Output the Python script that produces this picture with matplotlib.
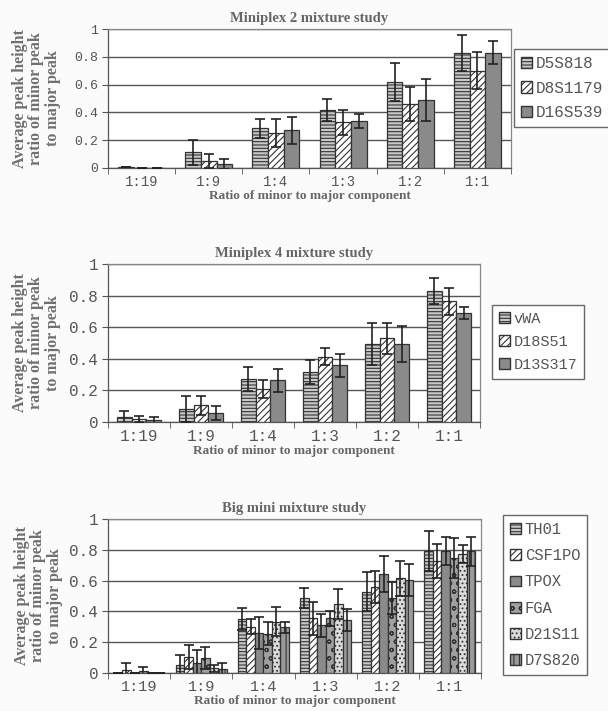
import matplotlib
matplotlib.use("Agg")
import matplotlib.pyplot as plt
import matplotlib.patches as mpatches
import numpy as np

plt.rcParams['hatch.linewidth'] = 0.8

ratios = ['1:19', '1:9', '1:4', '1:3', '1:2', '1:1']

# Miniplex 2
m2_loci = ['D5S818', 'D8S1179', 'D16S539']
m2_vals = [
    [0.005, 0.115, 0.285, 0.42, 0.62, 0.83],
    [0.0, 0.053, 0.25, 0.33, 0.46, 0.70],
    [0.0, 0.03, 0.27, 0.34, 0.49, 0.83],
]
m2_err = [
    [0.0, 0.09, 0.07, 0.08, 0.135, 0.13],
    [0.0, 0.05, 0.10, 0.09, 0.125, 0.135],
    [0.0, 0.035, 0.095, 0.05, 0.15, 0.085],
]

# Miniplex 4
m4_loci = ['vWA', 'D18S51', 'D13S317']
m4_vals = [
    [0.03, 0.083, 0.273, 0.316, 0.494, 0.83],
    [0.02, 0.106, 0.21, 0.413, 0.53, 0.763],
    [0.01, 0.057, 0.263, 0.358, 0.494, 0.69],
]
m4_err = [
    [0.04, 0.082, 0.074, 0.074, 0.133, 0.08],
    [0.02, 0.06, 0.057, 0.055, 0.097, 0.084],
    [0.02, 0.047, 0.072, 0.074, 0.112, 0.035],
]

# Big mini
bm_loci = ['TH01', 'CSF1PO', 'TPOX', 'FGA', 'D21S11', 'D7S820']
bm_vals = [
    [0.0, 0.05, 0.348, 0.485, 0.528, 0.793],
    [0.02, 0.104, 0.30, 0.354, 0.56, 0.728],
    [0.0, 0.065, 0.26, 0.31, 0.643, 0.793],
    [0.015, 0.098, 0.256, 0.354, 0.485, 0.746],
    [0.0, 0.03, 0.333, 0.446, 0.615, 0.772],
    [0.0, 0.024, 0.296, 0.343, 0.604, 0.789],
]
bm_err = [
    [0.0, 0.065, 0.072, 0.065, 0.126, 0.131],
    [0.045, 0.076, 0.048, 0.109, 0.103, 0.111],
    [0.0, 0.087, 0.105, 0.073, 0.114, 0.09],
    [0.025, 0.072, 0.077, 0.046, 0.105, 0.13],
    [0.0, 0.025, 0.093, 0.097, 0.115, 0.058],
    [0.0, 0.041, 0.037, 0.07, 0.105, 0.094],
]

# (facecolor, hatch) per series
styles3 = [('#c8c8c8', '-----'), ('white', '/////'), ('#8a8a8a', '')]
styles6 = [('#c8c8c8', '-----'), ('white', '/////'), ('#8a8a8a', ''),
           ('#a0a0a0', 'oo'), ('#dcdcdc', '....'), ('#9a9a9a', '|||')]

W, H = 608, 711
fig = plt.figure(figsize=(W / 100, H / 100), dpi=100)
fig.patch.set_facecolor('#fbfbfb')

serif = 'Liberation Serif'
mono = 'Liberation Mono'
txtc = '#555555'


def panel(rect, title, loci, vals, errs, styles, leg_c, group_w,
          yfs, xfs, lfs, lspace, ylab_x):
    l, t, r, b = rect
    ax = fig.add_axes([l / W, 1 - b / H, (r - l) / W, (b - t) / H])
    ax.set_facecolor('white')
    n = len(loci)
    x = np.arange(len(ratios))
    bw = group_w / n
    handles = []
    for i in range(n):
        fc, hatch = styles[i]
        pos = x - group_w / 2 + bw * (i + 0.5)
        ax.bar(pos, vals[i], bw, color=fc, edgecolor='#333333',
               linewidth=0.9, hatch=hatch, zorder=3)
        ax.errorbar(pos, vals[i], yerr=errs[i], fmt='none', ecolor='#222222',
                    elinewidth=1.2, capsize=3.5, capthick=1.2, zorder=4)
        handles.append(mpatches.Patch(facecolor=fc, edgecolor='#333333',
                                      hatch=hatch, label=loci[i]))
    ax.set_xlim(-0.5, len(ratios) - 0.5)
    ax.set_ylim(0, 1)
    ax.set_yticks([0, 0.2, 0.4, 0.6, 0.8, 1.0])
    ax.set_yticklabels(['0', '0.2', '0.4', '0.6', '0.8', '1'],
                       fontfamily=mono, fontsize=yfs, color=txtc)
    ax.set_xticks(np.arange(len(ratios) + 1) - 0.5, minor=True)
    ax.set_xticks(x)
    ax.set_xticklabels(ratios, fontfamily=mono, fontsize=xfs, color=txtc)
    ax.tick_params(axis='x', which='major', length=0, pad=5)
    ax.tick_params(axis='x', which='minor', length=4, color='#555555')
    ax.tick_params(axis='y', length=4, color='#555555', pad=3)
    ax.yaxis.grid(True, color='#555555', linewidth=1.0, zorder=0)
    ax.set_axisbelow(True)
    for s in ax.spines.values():
        s.set_color('#888888')
        s.set_linewidth(0.9)
    ax.spines['left'].set_color('#555555')
    ax.spines['bottom'].set_color('#555555')
    ax.set_title(title, fontfamily=serif, fontweight='bold', fontsize=10.5,
                 color='#666666', pad=5)
    ax.set_xlabel('Ratio of minor to major component', fontfamily=serif,
                  fontweight='bold', fontsize=9.5, color='#666666', labelpad=1)
    ax.set_ylabel('Average peak height\nratio of minor peak\nto major peak',
                  fontfamily=serif, fontweight='bold', fontsize=11.5,
                  color='#707070', linespacing=1.05)
    ax.yaxis.set_label_coords((ylab_x - l) / (r - l), 0.5)
    leg = fig.legend(handles=handles, loc='center',
                     bbox_to_anchor=(leg_c[0] / W, 1 - leg_c[1] / H),
                     prop={'family': mono, 'size': lfs},
                     frameon=True, fancybox=False, handlelength=0.7,
                     handleheight=0.7, handletextpad=0.25, borderpad=0.45,
                     labelspacing=lspace, borderaxespad=0)
    leg.get_frame().set_edgecolor('#444444')
    leg.get_frame().set_linewidth(1.0)
    leg.get_frame().set_facecolor('white')
    for tx in leg.get_texts():
        tx.set_color('#555555')
    return ax


panel((108, 29, 511, 168), 'Miniplex 2 mixture study', m2_loci, m2_vals,
      m2_err, styles3, (562, 88), 0.70, 9.5, 10, 11.5, 0.6, 61)
panel((108, 264, 480, 422), 'Miniplex 4 mixture study', m4_loci, m4_vals,
      m4_err, styles3, (538, 342), 0.72, 11.5, 11.5, 11, 0.6, 61)
panel((108, 519, 481, 673), 'Big mini mixture study', bm_loci, bm_vals,
      bm_err, styles6, (545, 595), 0.82, 11.5, 11, 11.2, 0.72, 63)

fig.savefig('out.png', dpi=100, facecolor=fig.get_facecolor())
